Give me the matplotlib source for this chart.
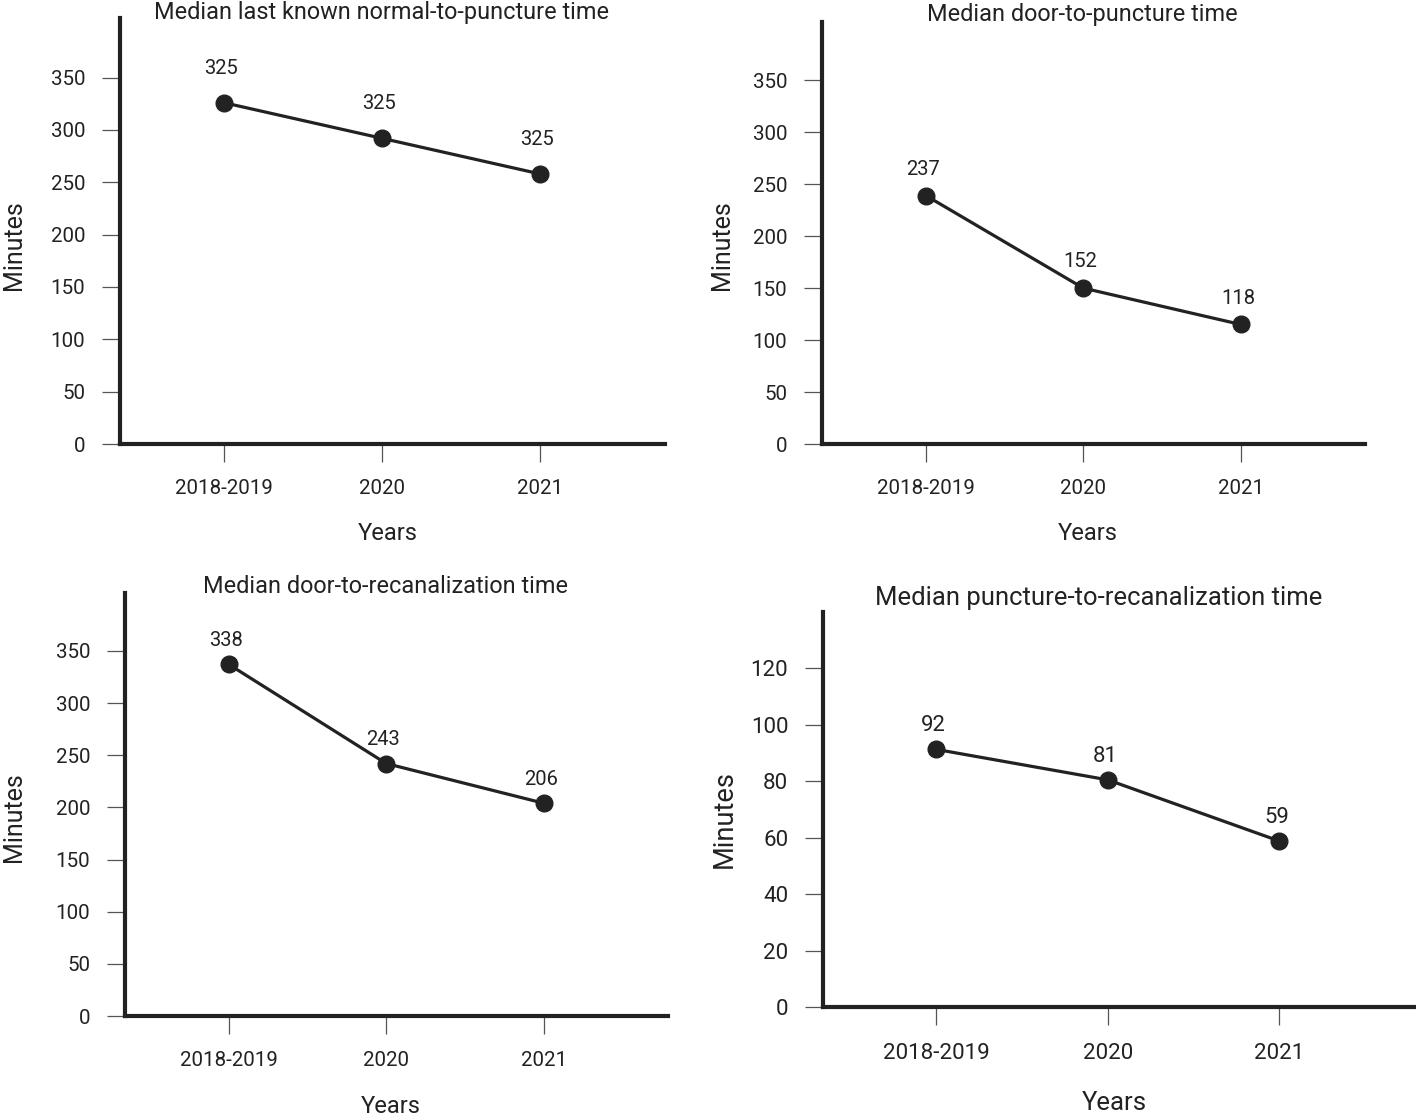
import matplotlib.pyplot as plt

plt.rcParams['font.family'] = ['Roboto', 'DejaVu Sans']

years = ['2018-2019', '2020', '2021']

# values (marker positions) and the printed labels
lkn_vals = [326, 292, 258]
lkn_labels = ['325', '325', '325']
dtp_vals = [239, 150, 115]
dtp_labels = ['237', '152', '118']
dtr_vals = [337, 242, 204]
dtr_labels = ['338', '243', '206']
ptr_vals = [91.3, 80.5, 58.8]
ptr_labels = ['92', '81', '59']

titles = ['Median last known normal-to-puncture time',
          'Median door-to-puncture time',
          'Median door-to-recanalization time',
          'Median puncture-to-recanalization time']

ink = '#222222'
W, H = 1416, 1119


def px_box(left, right, top, bottom):
    return [left / W, (H - bottom) / H, (right - left) / W, (bottom - top) / H]


# box, values, labels, title, ymax, yticks, title x (axes frac), title y (px),
# label offset, font scale, ylabel x, ylabel y, xlabel x, xlabel y
panels = [
    (px_box(120, 665, 18, 444), lkn_vals, lkn_labels, titles[0], 407, range(0, 351, 50),
     0.48, 12, 25, 1.0, -0.195, 0.467, 0.492, -0.211),
    (px_box(822, 1365, 22, 444), dtp_vals, dtp_labels, titles[1], 406, range(0, 351, 50),
     0.479, 15, 19, 1.0, -0.184, 0.472, 0.49, -0.211),
    (px_box(125, 668, 593, 1016), dtr_vals, dtr_labels, titles[2], 405.5, range(0, 351, 50),
     0.48, 586, 17, 1.0, -0.204, 0.47, 0.49, -0.213),
    (px_box(823, 1415, 612, 1007), ptr_vals, ptr_labels, titles[3], 140, range(0, 121, 20),
     0.465, 598, 17, 1.09, -0.167, 0.476, 0.493, -0.243),
]

fig = plt.figure(figsize=(W / 100, H / 100), dpi=100)

for (box, vals, labels, title, ytop, yticks, tx, ty, off, k,
     ylx, yly, xlx, xly) in panels:
    ax = fig.add_axes(box)
    x = list(range(len(years)))
    ax.plot(x, vals, color=ink, lw=2.3, marker='o', markersize=12, clip_on=False, zorder=3)
    for xi, v, lab in zip(x, vals, labels):
        ax.annotate(lab, (xi, v), xytext=(-2, off), textcoords='offset points',
                    ha='center', va='center', fontsize=14.5 * k, color=ink)
    ax.set_xlim(-0.66, 2.79)
    ax.set_ylim(0, ytop)
    ax.set_xticks(x)
    ax.set_xticklabels(years)
    ax.set_yticks(list(yticks))
    for s in ['top', 'right']:
        ax.spines[s].set_visible(False)
    for s in ['left', 'bottom']:
        ax.spines[s].set_linewidth(3)
        ax.spines[s].set_color(ink)
    ax.tick_params(axis='y', length=13, width=0.9, color='#555555', pad=12,
                   labelsize=14.8 * k, labelcolor=ink)
    ax.tick_params(axis='x', length=13, width=0.9, color='#555555', pad=12 * k,
                   labelsize=14.8 * k, labelcolor=ink)
    ax.set_xlabel('Years', fontsize=17 * k, color=ink, va='center', ha='center')
    ax.xaxis.set_label_coords(xlx, xly)
    ax.set_ylabel('Minutes', fontsize=18 * k, color=ink, va='center', ha='center')
    ax.yaxis.set_label_coords(ylx, yly)
    fig.text((box[0] + tx * box[2]), 1 - ty / H, title, ha='center', va='center',
             fontsize=16.9 * k, color=ink)

fig.savefig('out.png', dpi=100)
